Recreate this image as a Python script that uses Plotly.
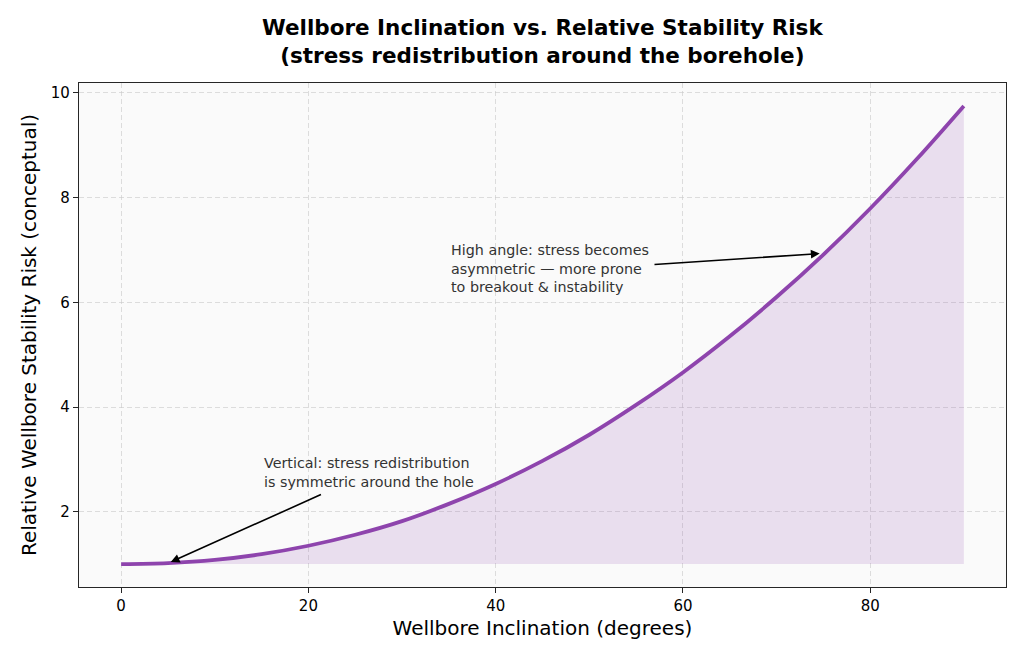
import plotly.graph_objects as go

# Inclination (degrees) and relative stability risk
inclination = [0, 5, 10, 15, 20, 25, 30, 35, 40, 45, 50, 55, 60, 65, 70, 75, 80, 85, 90]
risk = [1.00, 1.02, 1.08, 1.19, 1.35, 1.56, 1.82, 2.15, 2.53, 2.97, 3.47, 4.04,
        4.66, 5.35, 6.10, 6.91, 7.79, 8.74, 9.75]
baseline = [1.0] * len(inclination)

x_ticks = [0, 20, 40, 60, 80]
y_ticks = [2, 4, 6, 8, 10]

PURPLE = "#8e44ad"
FONT = "DejaVu Sans"

fig = go.Figure()

# invisible baseline so the fill sits between y=1 and the curve
fig.add_trace(go.Scatter(
    x=inclination, y=baseline, mode="lines",
    line=dict(width=0, color=PURPLE), hoverinfo="skip", showlegend=False,
))
fig.add_trace(go.Scatter(
    x=inclination, y=risk, mode="lines",
    line=dict(color=PURPLE, width=3.8, shape="spline"),
    fill="tonexty", fillcolor="rgba(142,68,173,0.15)",
    showlegend=False,
))

# title as a paper annotation (multi-line titles anchor badly)
fig.add_annotation(
    x=0.5, y=1.082, xref="paper", yref="paper", showarrow=False,
    text="<b>Wellbore Inclination vs. Relative Stability Risk<br>(stress redistribution around the borehole)</b>",
    xanchor="center", yanchor="middle", align="center",
    font=dict(family=FONT, size=21.5, color="black"),
)

# annotations: text blocks and arrows kept separate
fig.add_annotation(
    x=15, y=2.37, xref="x", yref="y", showarrow=False,
    text="Vertical: stress redistribution<br>is symmetric around the hole",
    xanchor="left", yanchor="bottom", align="left",
    font=dict(family=FONT, size=14.3, color="#333333"),
)
fig.add_annotation(
    x=5.3, y=1.04, ax=21.5, ay=2.34, axref="x", ayref="y",
    xref="x", yref="y", text="", showarrow=True,
    arrowhead=2, arrowsize=1.1, arrowwidth=1.6, arrowcolor="black",
)
fig.add_annotation(
    x=35, y=6.11, xref="x", yref="y", showarrow=False,
    text="High angle: stress becomes<br>asymmetric \u2014 more prone<br>to breakout &amp; instability",
    xanchor="left", yanchor="bottom", align="left",
    font=dict(family=FONT, size=14.3, color="#333333"),
)
fig.add_annotation(
    x=74.6, y=6.93, ax=56.8, ay=6.72, axref="x", ayref="y",
    xref="x", yref="y", text="", showarrow=True,
    arrowhead=2, arrowsize=1.1, arrowwidth=1.6, arrowcolor="black",
)

axis_common = dict(
    showline=True, linecolor="#262626", linewidth=1.2, mirror=True,
    ticks="outside", ticklen=5, tickcolor="#262626", automargin=False,
    showgrid=True, gridcolor="rgba(200,200,200,0.6)", griddash="5px,3px", gridwidth=1,
    zeroline=False, tickfont=dict(family=FONT, size=15, color="black"),
)

# page body adds an 8px margin, so the figure is sized to fit inside it
fig.update_layout(
    width=1016, height=655,
    margin=dict(l=71, r=18, t=75, b=76),
    paper_bgcolor="white", plot_bgcolor="#fafafa",
    font=dict(family=FONT, color="black"),
    xaxis=dict(
        range=[-4.5, 94.5], tickvals=x_ticks,
        title=dict(text="Wellbore Inclination (degrees)", font=dict(family=FONT, size=20), standoff=6),
        **axis_common,
    ),
    yaxis=dict(
        range=[0.5625, 10.1875], tickvals=y_ticks,
        title=dict(text="Relative Wellbore Stability Risk (conceptual)", font=dict(family=FONT, size=20), standoff=8),
        **axis_common,
    ),
)

fig.write_html("out.html")
